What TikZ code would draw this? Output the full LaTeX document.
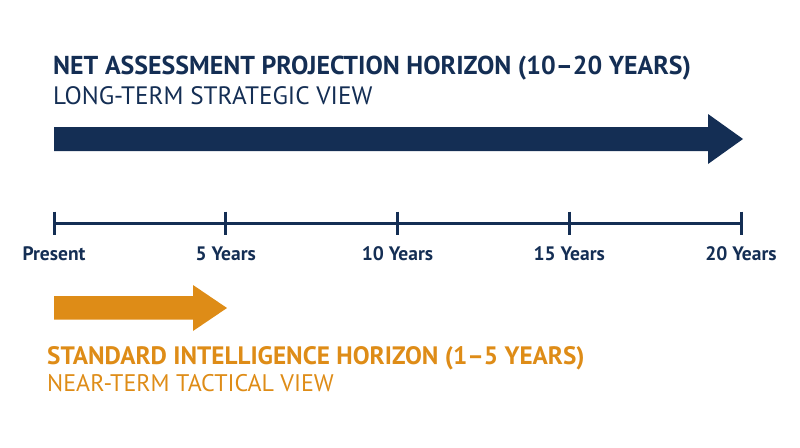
\documentclass[tikz,border=0pt]{standalone}
\usepackage{fontspec}
\setmainfont{PT Sans}
\usepackage{xcolor}
\definecolor{navy}{HTML}{142E54}
\definecolor{amber}{HTML}{DE8C17}
\usetikzlibrary{calc}
\tikzset{
  title/.style={anchor=base west, inner sep=0pt, font=\fontsize{25.9}{30}\selectfont\bfseries},
  subtitle/.style={anchor=base west, inner sep=0pt, font=\fontsize{25.2}{30}\selectfont},
  yearlabel/.style={anchor=base, inner sep=0pt, text=navy, font=\fontsize{19.5}{23}\selectfont\bfseries}
}

\begin{document}
\begin{tikzpicture}[x=1pt, y=-1pt]
  \useasboundingbox (0,0) rectangle (800,447);

  % long-term view
  \node[title, text=navy] (lttitle) at (53,74.3) {NET ASSESSMENT PROJECTION HORIZON (10--20 YEARS)};
  \node[subtitle, text=navy] (ltsub) at (53,104.3) {LONG-TERM STRATEGIC VIEW};
  \fill[navy] (54,127) -- (708,127) -- (708,114) -- (743,139) -- (708,164) -- (708,151) -- (54,151) -- cycle;

  % timeline
  \foreach \i/\lab [count=\k from 0] in {0/Present, 5/5 Years, 10/10 Years, 15/15 Years, 20/20 Years} {
    \coordinate (t\i) at ({54 + 171.75*\k}, 223);
    \draw[navy, line width=3pt] ($(t\i)+(0,-11.5)$) -- ($(t\i)+(0,11.5)$);
    \node[yearlabel] (l\i) at ($(t\i)+(0,37)$) {\lab};
  }
  \draw[navy, line width=3pt] (t0) -- (t20);

  % near-term view
  \fill[amber] (54,296) -- (193,296) -- (193,285) -- (227,308) -- (193,331) -- (193,319.5) -- (54,319.5) -- cycle;
  \node[title, text=amber, font=\fontsize{25.2}{30}\selectfont\bfseries] (sttitle) at (47,364) {STANDARD INTELLIGENCE HORIZON (1--5 YEARS)};
  \node[subtitle, text=amber, font=\fontsize{24}{28}\selectfont] (stsub) at (47,391.7) {NEAR-TERM TACTICAL VIEW};
\end{tikzpicture}
\end{document}
